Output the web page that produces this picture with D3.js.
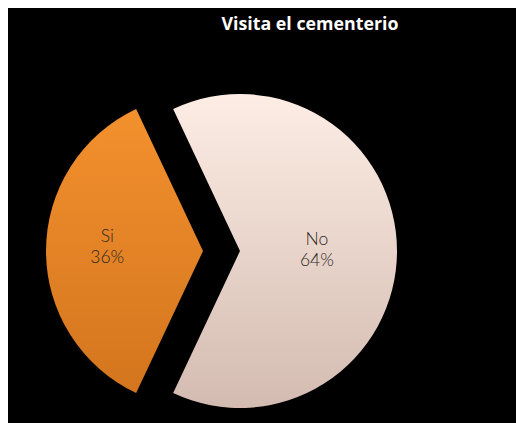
<!DOCTYPE html>
<html>
<head>
<meta charset="utf-8">
<script src="https://cdn.jsdelivr.net/npm/d3@7"></script>
<style>
  html, body { margin: 0; padding: 0; background: #ffffff; }
  svg { display: block; }
</style>
</head>
<body>
<svg id="chart" width="516" height="423"></svg>
<script>
const title = "Visita el cementerio";
const categories = ["Si", "No"];
const values = [36, 64];
const topColors = ["#F5922F", "#FDEDE4"];
const bottomColors = ["#D2741D", "#D3BBB1"];

const W = 516, H = 423;
const svg = d3.select("#chart");

svg.append("rect").attr("x", 8).attr("y", 8).attr("width", W - 8).attr("height", H - 8).attr("fill", "#000");

svg.append("text")
  .attr("x", 310).attr("y", 30)
  .attr("text-anchor", "middle")
  .attr("fill", "#fff")
  .attr("font-family", "Open Sans, Lato, sans-serif")
  .attr("font-weight", "bold")
  .attr("font-size", 17.8)
  .text(title);

const data = categories.map((c, i) => ({ cat: c, value: values[i] }));
const total = d3.sum(values);
const start = -Math.PI / 2 - (values[0] / total) * Math.PI;

const pie = d3.pie().value(d => d.value).sort(null)
  .startAngle(start).endAngle(start + 2 * Math.PI);
const arcs = pie(data);

const r = 157;
const cx = 221.5, cy = 251;
const explode = 18.5;
const arc = d3.arc().innerRadius(0).outerRadius(r);

const defs = svg.append("defs");
arcs.forEach((a, i) => {
  const g = defs.append("linearGradient").attr("id", "grad" + i)
    .attr("gradientUnits", "userSpaceOnUse")
    .attr("x1", 0).attr("y1", -r).attr("x2", 0).attr("y2", r);
  g.append("stop").attr("offset", "0%").attr("stop-color", topColors[i]);
  g.append("stop").attr("offset", "100%").attr("stop-color", bottomColors[i]);
});

const labelFactor = [0.61, 0.49];
const labelShift = [-9, -6];

arcs.forEach((a, i) => {
  const mid = (a.startAngle + a.endAngle) / 2;
  const dx = Math.sin(mid) * explode, dy = -Math.cos(mid) * explode;
  const g = svg.append("g").attr("transform", `translate(${cx + dx},${cy + dy})`);
  g.append("path").attr("d", arc(a)).attr("fill", `url(#grad${i})`);
  const lr = r * labelFactor[i];
  const lx = Math.sin(mid) * lr, ly = -Math.cos(mid) * lr;
  const t = g.append("text")
    .attr("text-anchor", "middle")
    .attr("fill", "#2b2725")
    .attr("font-family", "Lato, sans-serif")
    .attr("font-weight", 300)
    .attr("font-size", 17.5);
  t.append("tspan").attr("x", lx).attr("y", ly + labelShift[i]).text(a.data.cat);
  t.append("tspan").attr("x", lx).attr("y", ly + labelShift[i] + 21)
    .text(Math.round(a.data.value / total * 100) + "%");
});
</script>
</body>
</html>
